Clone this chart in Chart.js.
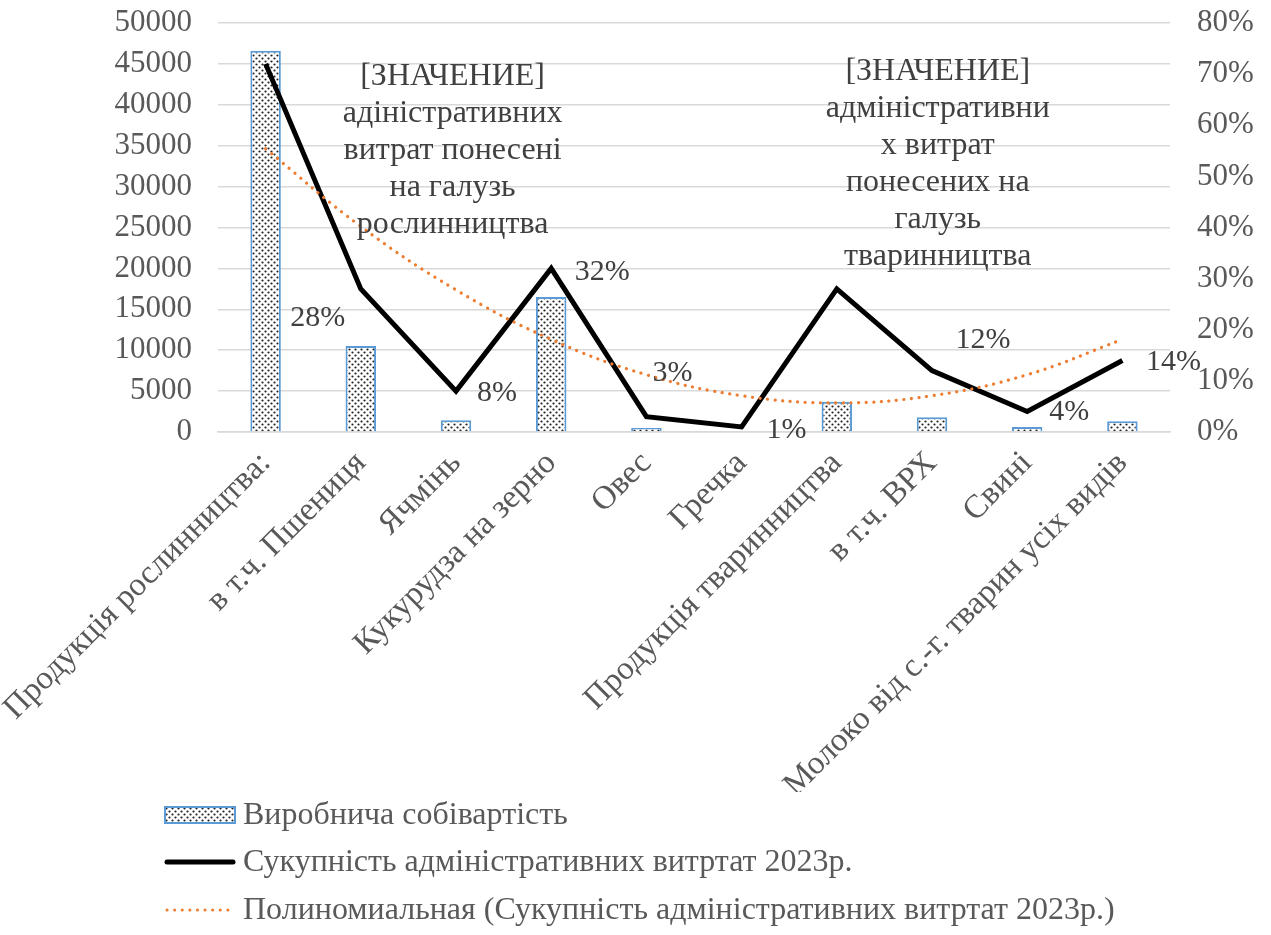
<!DOCTYPE html>
<html>
<head>
<meta charset="utf-8">
<script src="https://cdn.jsdelivr.net/npm/chart.js@4"></script>
<style>
  body { margin: 0; background: #fff; }
</style>
</head>
<body>
<canvas id="costChart" width="1271" height="935"></canvas>
<script>
const categories = ['Продукція рослинництва:', 'в т.ч. Пшениця', 'Ячмінь', 'Кукурудза на зерно', 'Овес',
    'Гречка', 'Продукція тваринництва', 'в т.ч. ВРХ', 'Свині', 'Молоко від с.-г. тварин усіх видів'];
const productionCost = [46600, 10500, 1450, 16500, 500, 100, 3700, 1800, 600, 1300];
const adminShare = [0.72, 0.28, 0.08, 0.32, 0.03, 0.01, 0.28, 0.12, 0.04, 0.14];
const trendShare = [0.554, 0.402, 0.278, 0.181, 0.112, 0.071, 0.057, 0.071, 0.112, 0.181];
const costTicks = [0, 5000, 10000, 15000, 20000, 25000, 30000, 35000, 40000, 45000, 50000];
const shareTicks = [0, 0.1, 0.2, 0.3, 0.4, 0.5, 0.6, 0.7, 0.8];
const seriesNames = ['Виробнича собівартість', 'Сукупність адміністративних витртат 2023р.',
    'Полиномиальная (Сукупність адміністративних витртат 2023р.)'];
const customLabels = {
    0: ['[ЗНАЧЕНИЕ]', 'адіністративних', 'витрат понесені', 'на галузь', 'рослинництва'],
    6: ['[ЗНАЧЕНИЕ]', 'адміністративни', 'х витрат', 'понесених на', 'галузь', 'тваринництва']
};

// зсув підписів відносно точок
const labelOffsets = [[187, 87], [-43, 29], [41, 2], [51, 4], [26, -44], [45, 3], [101, -125], [51, -31], [42, 1], [51, 2]];

const FONT = '"Liberation Serif", "Times New Roman", serif';
const GREY = '#595959';

document.addEventListener('DOMContentLoaded', () => {
    const canvas = document.getElementById('costChart');
    const ctx = canvas.getContext('2d');

    // крапчаста заливка стовпчиків
    const tile = document.createElement('canvas');
    tile.width = 6; tile.height = 6;
    const t = tile.getContext('2d');
    t.fillStyle = '#fff';
    t.fillRect(0, 0, 6, 6);
    t.fillStyle = '#222';
    t.beginPath(); t.arc(1.5, 1.5, 1.1, 0, Math.PI * 2); t.fill();
    t.beginPath(); t.arc(4.5, 4.5, 1.1, 0, Math.PI * 2); t.fill();
    const dots = ctx.createPattern(tile, 'repeat');

    const pointLabels = {
        id: 'pointLabels',
        afterDatasetsDraw(chart) {
            const c = chart.ctx;
            const meta = chart.getDatasetMeta(1);
            c.save();
            c.fillStyle = '#404040';
            c.textAlign = 'center';
            c.textBaseline = 'middle';
            const lineH = 37;
            meta.data.forEach((pt, i) => {
                const lines = customLabels[i] || [Math.round(adminShare[i] * 100) + '%'];
                c.font = (customLabels[i] ? '32px ' : '30px ') + FONT;
                const [dx, dy] = labelOffsets[i];
                const y0 = pt.y + dy - (lines.length - 1) * lineH / 2;
                lines.forEach((txt, k) => c.fillText(txt, pt.x + dx, y0 + k * lineH));
            });
            c.restore();
        }
    };

    const customLegend = {
        id: 'customLegend',
        afterDraw(chart) {
            const c = chart.ctx;
            const x0 = 165, w = 70, tx = 243;
            const rows = [815, 862, 910];
            c.save();
            // стовпчик
            c.fillStyle = dots;
            c.fillRect(x0, rows[0] - 8, w, 16);
            c.strokeStyle = '#5B9BD5';
            c.lineWidth = 2;
            c.strokeRect(x0, rows[0] - 8, w, 16);
            // лінія
            c.strokeStyle = '#000';
            c.lineWidth = 5;
            c.lineCap = 'round';
            c.beginPath(); c.moveTo(x0 + 2, rows[1]); c.lineTo(x0 + w - 2, rows[1]); c.stroke();
            // тренд
            c.strokeStyle = '#ED7D31';
            c.lineWidth = 3;
            c.setLineDash([0.1, 7.5]);
            c.beginPath(); c.moveTo(x0 + 2, rows[2]); c.lineTo(x0 + w, rows[2]); c.stroke();
            c.setLineDash([]);
            c.font = '32px ' + FONT;
            c.fillStyle = GREY;
            c.textBaseline = 'middle';
            seriesNames.forEach((name, i) => c.fillText(name, tx, rows[i] + 1));
            c.restore();
        }
    };

    new Chart(ctx, {
        type: 'bar',
        data: {
            labels: categories,
            datasets: [{
                type: 'bar',
                label: seriesNames[0],
                data: productionCost,
                backgroundColor: dots,
                borderColor: '#5B9BD5',
                borderWidth: 2,
                categoryPercentage: 1,
                barPercentage: 0.32,
                yAxisID: 'y',
                order: 3
            }, {
                type: 'line',
                label: seriesNames[1],
                data: adminShare,
                borderColor: '#000',
                borderWidth: 5,
                pointRadius: 0,
                tension: 0,
                yAxisID: 'y1',
                order: 2
            }, {
                type: 'line',
                label: seriesNames[2],
                data: trendShare,
                borderColor: '#ED7D31',
                borderWidth: 3.2,
                borderDash: [0.1, 7.5],
                borderCapStyle: 'round',
                pointRadius: 0,
                tension: 0.4,
                yAxisID: 'y1',
                order: 1
            }]
        },
        options: {
            responsive: false,
            animation: false,
            layout: { padding: { top: 23, bottom: 143, left: 0, right: 0 } },
            plugins: {
                legend: { display: false },
                tooltip: { enabled: false }
            },
            scales: {
                x: {
                    grid: { display: false },
                    border: { color: '#D9D9D9', width: 1.5 },
                    ticks: {
                        color: GREY,
                        font: { family: FONT, size: 33 },
                        minRotation: 45,
                        maxRotation: 45,
                        autoSkip: false,
                        padding: 4
                    },
                    afterFit(scale) { scale.height = 360; scale.paddingLeft = 0; scale.paddingRight = 0; }
                },
                y: {
                    position: 'left',
                    min: 0,
                    max: 50000,
                    afterBuildTicks(scale) { scale.ticks = costTicks.map(v => ({ value: v })); },
                    ticks: {
                        color: GREY,
                        padding: 26,
                        font: { family: FONT, size: 31 },
                        callback: v => String(v)
                    },
                    grid: { color: '#D9D9D9', lineWidth: 1.5, drawTicks: false },
                    border: { display: false },
                    afterFit(scale) { scale.width = 218; scale.paddingTop = 0; scale.paddingBottom = 0; }
                },
                y1: {
                    position: 'right',
                    min: 0,
                    max: 0.8,
                    afterBuildTicks(scale) { scale.ticks = shareTicks.map(v => ({ value: v })); },
                    ticks: {
                        color: GREY,
                        padding: 27,
                        font: { family: FONT, size: 31 },
                        callback: v => Math.round(v * 100) + '%'
                    },
                    grid: { display: false, drawTicks: false },
                    border: { display: false },
                    afterFit(scale) { scale.width = 101; scale.paddingTop = 0; scale.paddingBottom = 0; }
                }
            }
        },
        plugins: [pointLabels, customLegend]
    });
});
</script>
</body>
</html>
